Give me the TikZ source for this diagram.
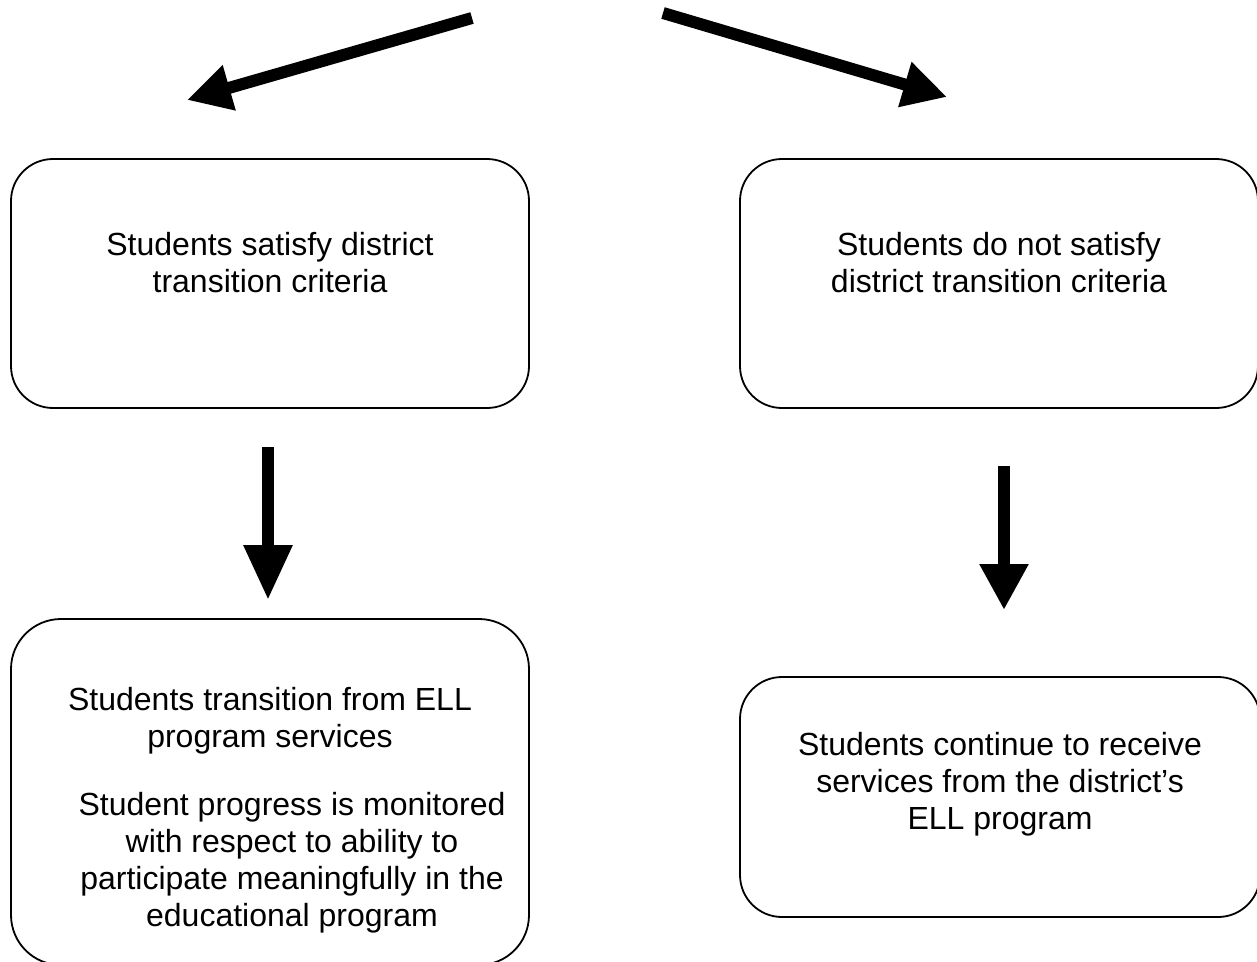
\documentclass[tikz,border=0pt]{standalone}
\usepackage{fontspec}
\setmainfont{Liberation Sans}
\usetikzlibrary{arrows.meta}
\begin{document}
\begin{tikzpicture}[x=1pt,y=-1pt,
  box/.style={draw, line width=1.8pt, rounded corners=42pt, minimum width=518pt, inner sep=0pt},
  txt/.style={inner sep=0pt, anchor=base, font=\fontsize{32}{37}\selectfont},
  bigarrow/.style={line width=12pt, -{Triangle[length=#1,width=46pt]}},
  diagarrow/.style={line width=12pt, -{Triangle[length=44pt,width=44pt]}}]
\useasboundingbox (0,0) rectangle (1257,961);
% boxes
\node[box, minimum height=249pt] (boxA) at (270,283.5) {};
\node[box, minimum height=249pt] (boxB) at (999,283.5) {};
\node[box, minimum height=346pt, rounded corners=50pt] (boxC) at (270,792) {};
\node[box, minimum height=240pt, minimum width=520pt] (boxD) at (1000,797) {};
% texts
\node[txt] (txtA) at (270,255) {\begin{tabular}[t]{@{}c@{}}Students satisfy district\\transition criteria\end{tabular}};
\node[txt] (txtB) at (999,255) {\begin{tabular}[t]{@{}c@{}}Students do not satisfy\\district transition criteria\end{tabular}};
\node[txt] (txtC1) at (270,710) {\begin{tabular}[t]{@{}c@{}}Students transition from ELL\\program services\end{tabular}};
\node[txt] (txtC2) at (292,815) {\begin{tabular}[t]{@{}c@{}}Student progress is monitored\\with respect to ability to\\participate meaningfully in the\\educational program\end{tabular}};
\node[txt] (txtD) at (1000,755) {\begin{tabular}[t]{@{}c@{}}Students continue to receive\\services from the district’s\\ELL program\end{tabular}};
% arrows
\coordinate (tailL) at (472,18);
\coordinate (tipL) at (187,100);
\coordinate (tailR) at (663,13);
\coordinate (tipR) at (947,97);
\coordinate (downAtop) at (268,447);
\coordinate (downAtip) at (268,600);
\coordinate (downBtop) at (1004,466);
\coordinate (downBtip) at (1004,610);
\draw[diagarrow] (tailL) -- (tipL);
\draw[diagarrow] (tailR) -- (tipR);
\draw[bigarrow=55pt] (downAtop) -- (downAtip);
\draw[bigarrow=46pt] (downBtop) -- (downBtip);
\end{tikzpicture}
\end{document}
